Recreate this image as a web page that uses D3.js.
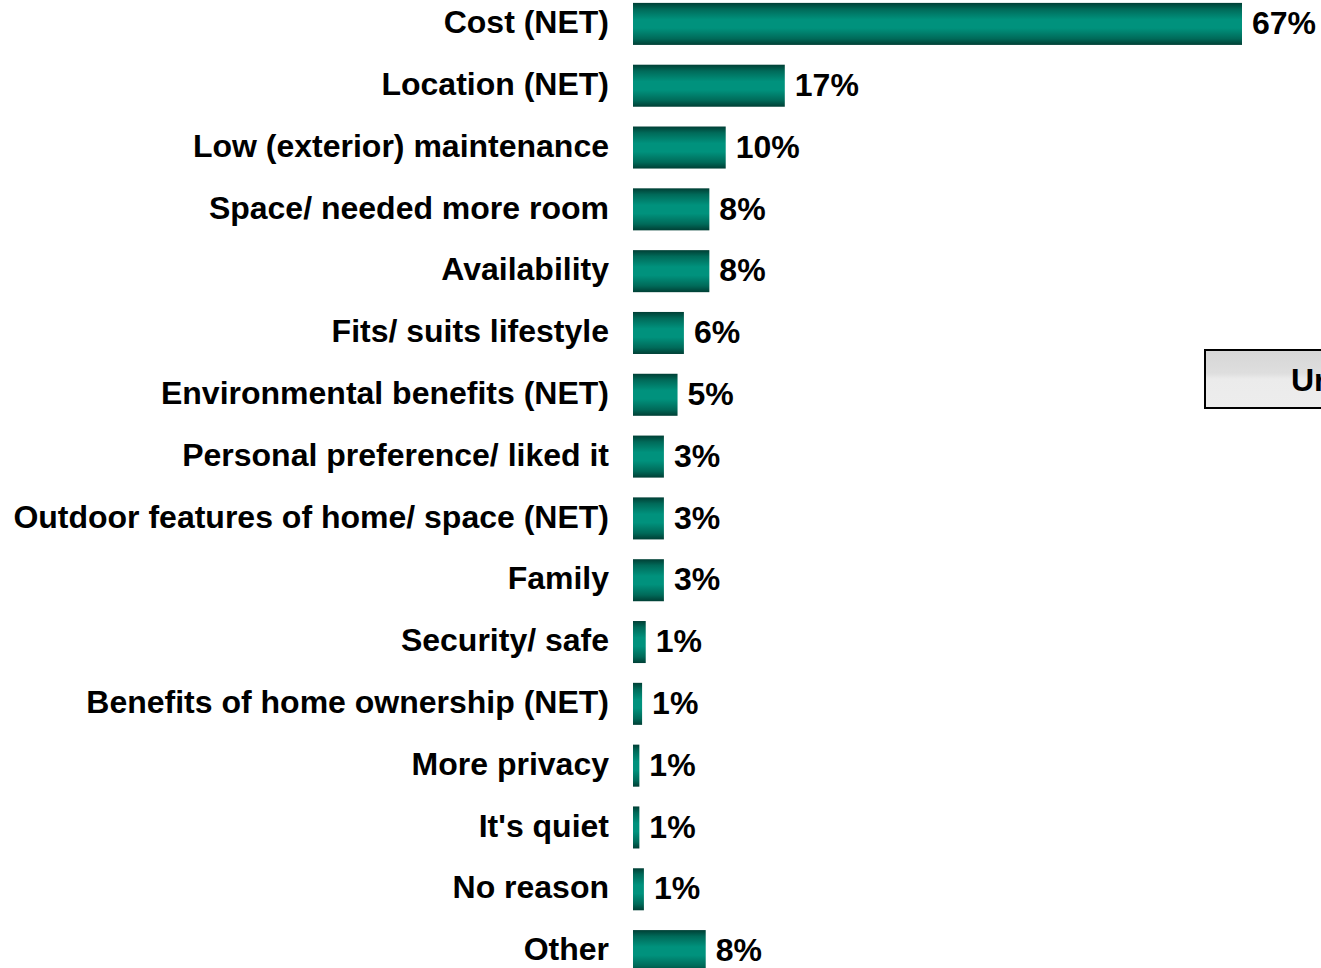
<!DOCTYPE html>
<html>
<head>
<meta charset="utf-8">
<script src="https://cdn.jsdelivr.net/npm/d3@7"></script>
<style>
  html, body { margin: 0; padding: 0; background: #fff; }
  svg { display: block; }
  text { font-family: "Liberation Sans", Arial, sans-serif; font-weight: bold; fill: #000; }
</style>
</head>
<body>
<svg id="chart" width="1321" height="968"></svg>
<script>
// Reasons given, in display order
const categories = [
  "Cost (NET)",
  "Location (NET)",
  "Low (exterior) maintenance",
  "Space/ needed more room",
  "Availability",
  "Fits/ suits lifestyle",
  "Environmental benefits (NET)",
  "Personal preference/ liked it",
  "Outdoor features of home/ space (NET)",
  "Family",
  "Security/ safe",
  "Benefits of home ownership (NET)",
  "More privacy",
  "It's quiet",
  "No reason",
  "Other"
];
// Share of respondents (%)
const values = [67, 16.7, 10.2, 8.4, 8.4, 5.6, 4.9, 3.4, 3.4, 3.4, 1.4, 1.0, 0.7, 0.7, 1.2, 8.0];
const boxLabel = "Ur";

const svg = d3.select("#chart");
const left = 633;

const defs = svg.append("defs");
const grad = defs.append("linearGradient")
  .attr("id", "barGrad").attr("x1", 0).attr("y1", 0).attr("x2", 0).attr("y2", 1);
[[0, "#003f35"], [0.15, "#006a59"], [0.4, "#00927d"], [0.6, "#00927d"], [0.85, "#006a59"], [1, "#003f35"]]
  .forEach(([o, c]) => grad.append("stop").attr("offset", o).attr("stop-color", c));

const boxGrad = defs.append("linearGradient")
  .attr("id", "boxGrad").attr("x1", 0).attr("y1", 0).attr("x2", 0).attr("y2", 1);
[[0, "#d6d6d6"], [0.4, "#dedede"], [0.5, "#ebebeb"], [1, "#ededed"]]
  .forEach(([o, c]) => boxGrad.append("stop").attr("offset", o).attr("stop-color", c));

const x = d3.scaleLinear().domain([0, 67]).range([left, left + 609]);
const y = d3.scaleBand().domain(categories).range([-7, 982]).paddingInner(0.32).paddingOuter(0.16);

const rows = categories.map((c, i) => ({ cat: c, v: values[i] }));

svg.append("g").selectAll("rect").data(rows).join("rect")
  .attr("x", x(0))
  .attr("y", d => y(d.cat))
  .attr("width", d => x(d.v) - x(0))
  .attr("height", y.bandwidth())
  .attr("fill", "url(#barGrad)");

svg.append("g").selectAll("text").data(rows).join("text")
  .attr("x", 609)
  .attr("y", d => y(d.cat) + y.bandwidth() / 2 - 2)
  .attr("dy", "0.35em")
  .attr("text-anchor", "end")
  .style("font-size", "32px")
  .text(d => d.cat);

const fmt = v => d3.format(".0f")(v) + "%";
svg.append("g").selectAll("text").data(rows).join("text")
  .attr("x", d => x(d.v) + 10)
  .attr("y", d => y(d.cat) + y.bandwidth() / 2 - 1)
  .attr("dy", "0.35em")
  .style("font-size", "32px")
  .text(d => fmt(d.v));

// Boxed label at the right edge
const box = svg.append("g");
box.append("rect").attr("x", 1205).attr("y", 350).attr("width", 200).attr("height", 58)
  .attr("fill", "url(#boxGrad)").attr("stroke", "#000").attr("stroke-width", 2);
box.append("text").attr("x", 1291).attr("y", 380).attr("dy", "0.35em")
  .style("font-size", "32px").text(boxLabel);
</script>
</body>
</html>
